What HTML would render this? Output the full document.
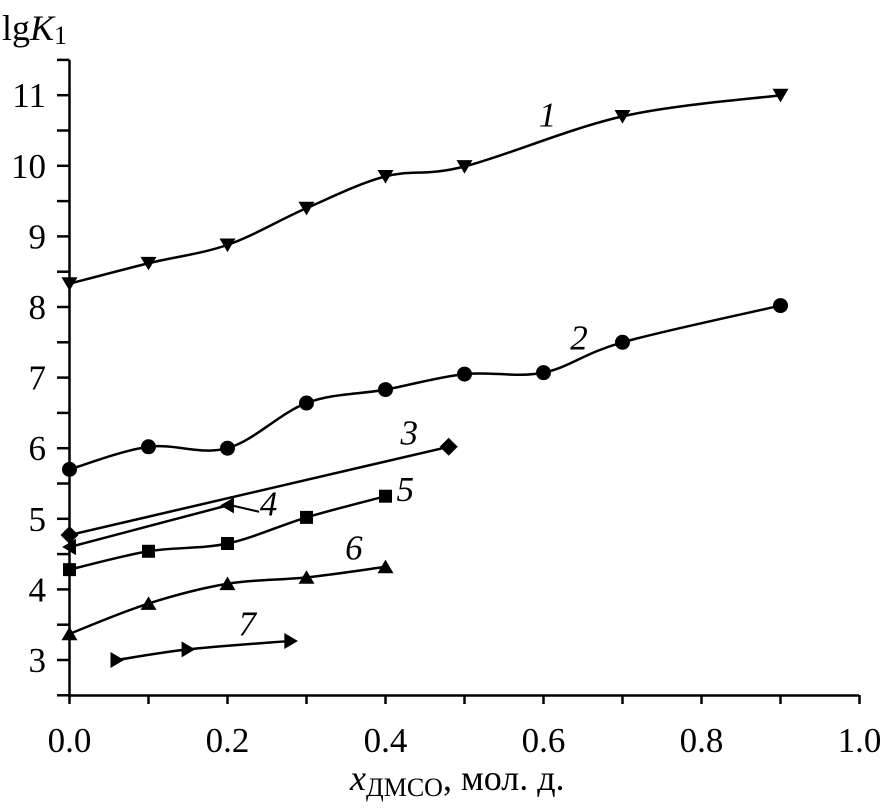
<!DOCTYPE html>
<html><head><meta charset="utf-8"><style>body{margin:0;background:#fff}svg{display:block;font-family:"Liberation Serif",serif}</style></head>
<body>
<svg id="c" width="882" height="809" viewBox="0 0 882 809"></svg>
<script>
const xTicks=[0,0.2,0.4,0.6,0.8,1.0];
const xTickLabels=["0.0","0.2","0.4","0.6","0.8","1.0"];
const yTicks=[3,4,5,6,7,8,9,10,11];
const s1x=[0,0.1,0.2,0.3,0.4,0.5,0.7,0.9], s1y=[8.33,8.62,8.88,9.4,9.85,9.99,10.7,11.0];
const s2x=[0,0.1,0.2,0.3,0.4,0.5,0.6,0.7,0.9], s2y=[5.7,6.02,6.0,6.64,6.83,7.05,7.07,7.5,8.02];
const s3x=[0,0.48], s3y=[4.77,6.02];
const s4x=[0,0.2], s4y=[4.6,5.19];
const s5x=[0,0.1,0.2,0.3,0.4], s5y=[4.28,4.54,4.65,5.02,5.32];
const s6x=[0,0.1,0.2,0.3,0.4], s6y=[3.37,3.8,4.08,4.17,4.32];
const s7x=[0.06,0.15,0.28], s7y=[3.0,3.15,3.27];
const NS="http://www.w3.org/2000/svg",svg=document.getElementById('c');
const X=v=>69.5+v*790, Y=v=>660-(v-3)*70.6;
function el(t,a,p){const e=document.createElementNS(NS,t);for(const k in a)e.setAttribute(k,a[k]);(p||svg).appendChild(e);return e;}
function txt(x,y,s,sz,anchor,it){const t=el('text',{x:x,y:y,'font-size':sz,'text-anchor':anchor||'middle','font-style':it?'italic':'normal'});t.textContent=s;return t;}
let a=el('path',{d:`M69.5 60V695.5H859`,stroke:'#000','stroke-width':2.5,fill:'none'});


for(let i=0;i<=10;i++){const x=X(i/10);el('line',{x1:x,x2:x,y1:695,y2:704,stroke:'#000','stroke-width':2.5});}
xTicks.forEach((v,i)=>{const t=txt(X(v),752,xTickLabels[i],35);

});
for(let v=2.5;v<=11.5;v+=0.5){const y=Y(v);el('line',{x1:57,x2:69.5,y1:y,y2:y,stroke:'#000','stroke-width':2.5});}
yTicks.forEach(v=>{const t=txt(46,Y(v)+12,String(v),35,'end');

});
let yt=el('text',{x:2,y:40,'font-size':36});yt.innerHTML='lg<tspan font-style="italic">K</tspan><tspan font-size="26" dy="4">1</tspan>';


let xt=el('text',{x:350,y:790,'font-size':36});xt.innerHTML='<tspan font-style="italic">x</tspan><tspan font-size="26" dy="6">ДМСО</tspan><tspan dy="-6">, мол. д.</tspan>';


function curve(xs,ys){const p=xs.map((x,i)=>[X(x),Y(ys[i])]);let d=`M${p[0][0]} ${p[0][1]}`;
for(let i=0;i<p.length-1;i++){const p0=p[i-1]||p[i],p1=p[i],p2=p[i+1],p3=p[i+2]||p2;
d+=`C${p1[0]+(p2[0]-p0[0])/6} ${p1[1]+(p2[1]-p0[1])/6},${p2[0]-(p3[0]-p1[0])/6} ${p2[1]-(p3[1]-p1[1])/6},${p2[0]} ${p2[1]}`;}return d;}
function marker(type,x,y){const s=8;let d;
if(type=='dn')d=`M${x-s} ${y-s*0.8}H${x+s}L${x} ${y+s*0.9}Z`;
else if(type=='up')d=`M${x-s} ${y+s*0.8}H${x+s}L${x} ${y-s*0.9}Z`;
else if(type=='lt')d=`M${x+s*0.8} ${y-s}V${y+s}L${x-s*0.9} ${y}Z`;
else if(type=='rt')d=`M${x-s*0.8} ${y-s}V${y+s}L${x+s*0.9} ${y}Z`;
else if(type=='dia')d=`M${x} ${y-9}L${x+9} ${y}L${x} ${y+9}L${x-9} ${y}Z`;
else if(type=='sq')d=`M${x-6.5} ${y-6.5}h13v13h-13Z`;
if(type=='ci'){return el('circle',{cx:x,cy:y,r:7.5,fill:'#000'});}
return el('path',{d:d,fill:'#000'});}
const series=[[s1x,s1y,'dn','1',X(0.605),Y(10.56)],[s2x,s2y,'ci','2',X(0.645),Y(7.4)],[s3x,s3y,'dia','3',X(0.43),Y(6.05)],
[s4x,s4y,'lt','4',X(0.252),Y(5.05)],[s5x,s5y,'sq','5',X(0.425),Y(5.25)],[s6x,s6y,'up','6',X(0.36),Y(4.42)],[s7x,s7y,'rt','7',X(0.225),Y(3.35)]];
series.forEach((s,k)=>{const g=el('g',{});


el('path',{d:curve(s[0],s[1]),stroke:'#000','stroke-width':2.5,fill:'none'},g);
s[0].forEach((x,i)=>{const m=marker(s[2],X(x),Y(s[1][i]));g.appendChild(m);});
if(s[2]=='lt'){const m=marker('lt',X(0),Y(s[1][0]));g.appendChild(m);}
const l=txt(s[4],s[5],s[3],35,'middle',true);g.appendChild(l);

});
el('line',{x1:X(0.205),y1:Y(5.19),x2:X(0.24),y2:Y(5.1),stroke:'#000','stroke-width':2});
</script>
</body></html>
